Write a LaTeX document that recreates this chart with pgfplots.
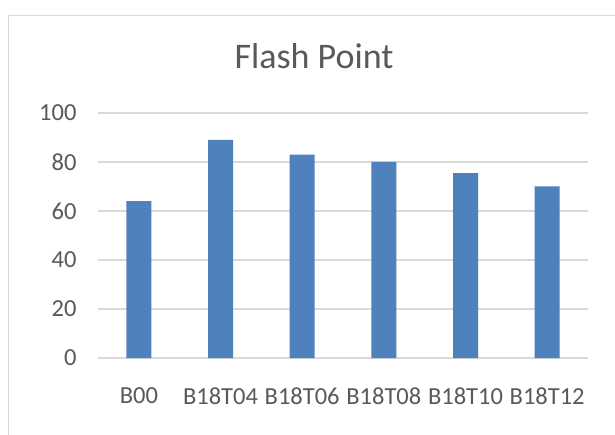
\documentclass[border=0pt]{standalone}
\usepackage{fontspec}
\setmainfont{Carlito}
\usepackage{pgfplots}
\pgfplotsset{compat=1.18}
\definecolor{barblue}{HTML}{4F81BD}
\definecolor{gridgray}{HTML}{D9D9D9}
\definecolor{txtgray}{HTML}{595959}
\pgfplotstableread{
x val
0 64
1 89
2 83
3 80
4 75.5
5 70
}\flashdata
\begin{document}
\begin{tikzpicture}
\useasboundingbox (0,0) rectangle (615pt,434pt);
\fill[white] (0,0) rectangle (615pt,434pt);
\draw[gridgray, line width=1.8pt] (8.5pt,-5pt) -- (8.5pt,418.5pt) -- (620pt,418.5pt);
\node[anchor=base, text=txtgray, font=\fontsize{36}{40}\selectfont] at (314pt,365pt) {Flash Point};
\begin{axis}[
  at={(98pt,76pt)}, anchor=south west,
  scale only axis, width=490pt, height=245pt,
  xmin=-0.5, xmax=5.5, ymin=0, ymax=100,
  ybar, bar width=25pt,
  axis line style={draw=none},
  tick style={draw=none},
  ytick={0,20,...,100},
  ymajorgrids, grid style={gridgray, line width=1.5pt},
  xtick=data,
  xticklabels={B00,B18T04,B18T06,B18T08,B18T10,B18T12},
  /pgf/number format/assume math mode=true,
  ticklabel style={text=txtgray, font=\fontsize{24.5}{28}\selectfont},
  yticklabel style={xshift=-18pt},
  xticklabel style={yshift=-22pt},
  clip=false,
]
\addplot[fill=barblue, draw=none] table[x=x, y=val] {\flashdata};
\end{axis}
\end{tikzpicture}
\end{document}
